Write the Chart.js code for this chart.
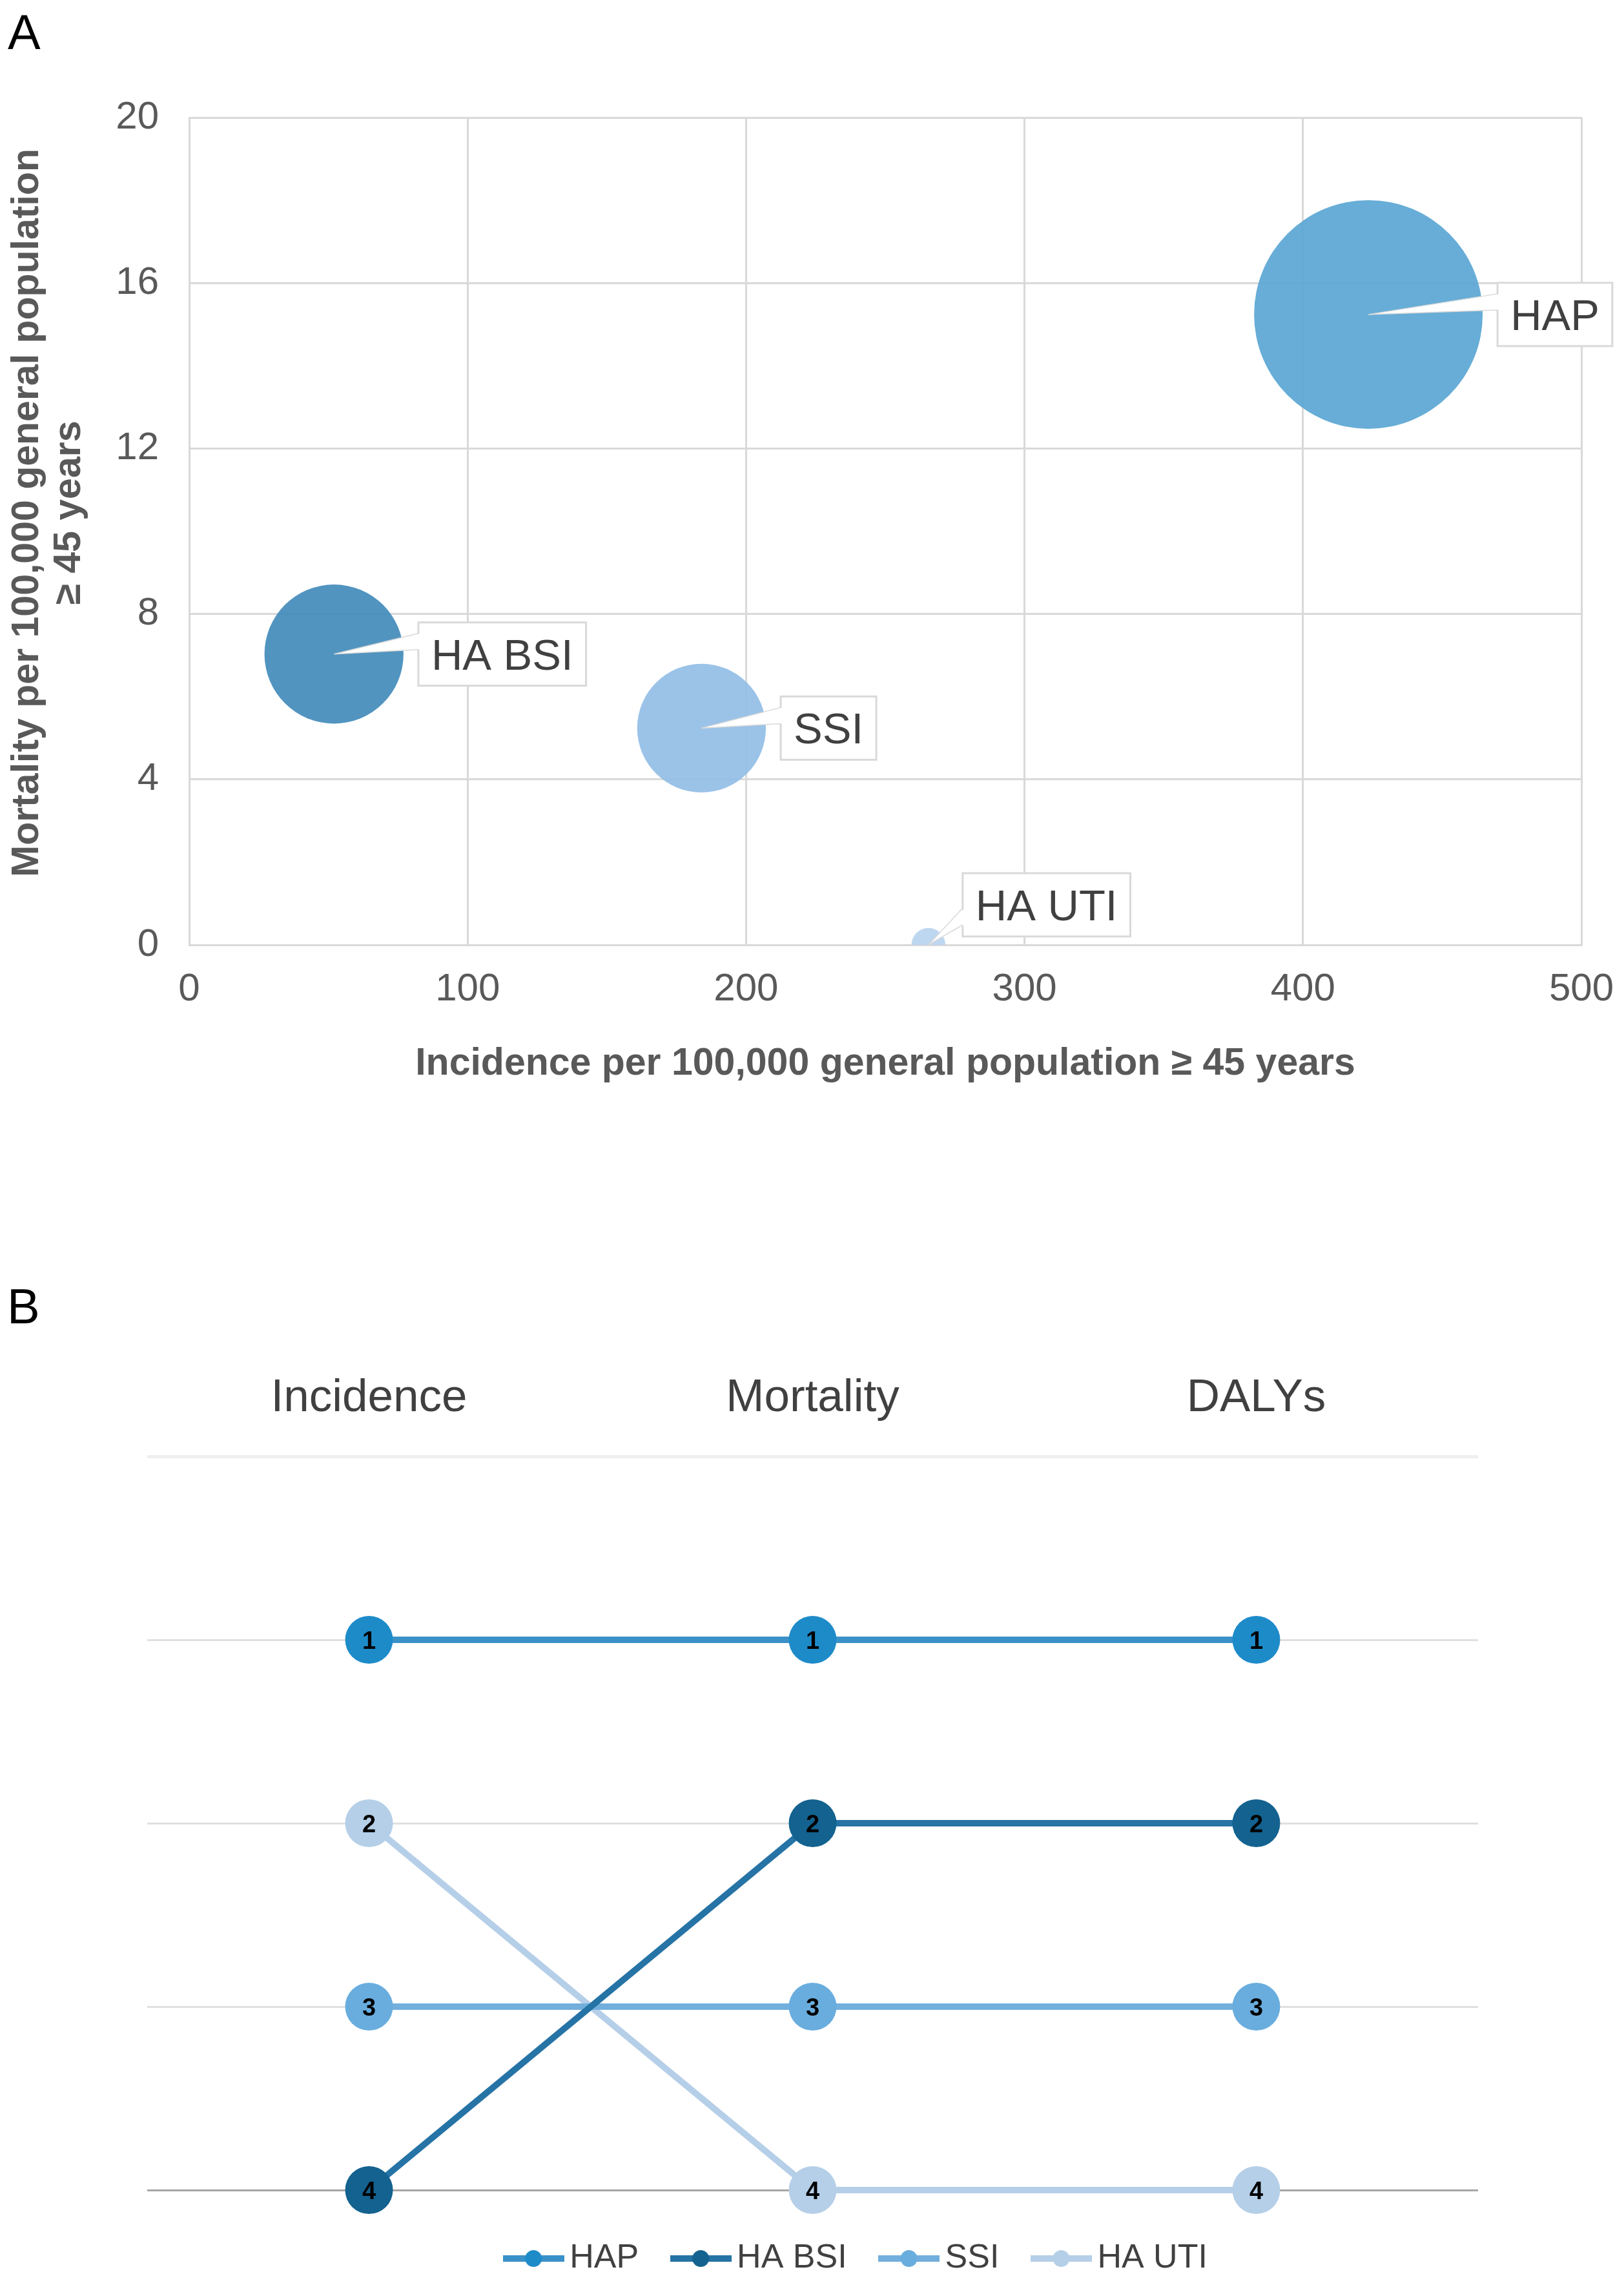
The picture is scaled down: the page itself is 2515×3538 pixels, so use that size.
<!DOCTYPE html>
<html><head><meta charset="utf-8">
<script src="https://cdn.jsdelivr.net/npm/chart.js@4.4.1/dist/chart.umd.min.js"></script>
<style>
html,body{margin:0;padding:0;background:#fff;}
body{width:2515px;height:3538px;position:relative;overflow:hidden;font-family:"Liberation Sans",Arial,sans-serif;}
#cA{position:absolute;left:0;top:0;}
#cB{position:absolute;left:0;top:1900px;}
.panel{position:absolute;font-size:76px;line-height:1;color:#000;}
</style></head><body>
<div class="panel" style="left:12px;top:12px">A</div>
<div class="panel" style="left:11px;top:1985px">B</div>
<canvas id="cA" width="2515" height="1720"></canvas>
<canvas id="cB" width="2515" height="1638"></canvas>
<script>
// ---------- DATA ----------
// Panel A
const diseases = ['HAP', 'HA BSI', 'SSI', 'HA UTI'];
const incidence = [423.5, 52, 184, 265.5];        // per 100,000 >= 45 y
const mortality = [15.24, 7.03, 5.24, 0];         // per 100,000 >= 45 y
const bubbleSize = [100, 37, 31.7, 2.2];          // relative bubble size (area)
const xTicksA = [0, 100, 200, 300, 400, 500];
const yTicksA = [0, 4, 8, 12, 16, 20];
const xTitleA = 'Incidence per 100,000 general population ≥ 45 years';
const yTitleA = ['Mortality per 100,000 general population', '≥ 45 years'];

// Panel B
const rankCategories = ['Incidence', 'Mortality', 'DALYs'];
const rankHAP = [1, 1, 1];
const rankHABSI = [4, 2, 2];
const rankSSI = [3, 3, 3];
const rankHAUTI = [2, 4, 4];
const rankTicks = [0, 1, 2, 3, 4];

// ---------- STYLE ----------
const FAM = "'Liberation Sans', Arial, sans-serif";
Chart.defaults.font.family = FAM;
const RADIUS_K = 17.7;
const bubbleColors = ['rgba(87,164,211,0.9)', 'rgba(62,136,185,0.9)', 'rgba(144,188,229,0.9)', 'rgba(183,211,238,0.9)'];
const lineColors = ['#3A91C8', '#2673A6', '#72AFDD', '#B6CFE8'];
const pointColors = ['#1E8BC9', '#13628F', '#69ADDE', '#B5CFE8'];

const bubbleLabelPlugin = {
  id: 'bubbleLabels',
  afterDatasetsDraw(chart, args, o) {
    const meta = chart.getDatasetMeta(0);
    const ctx = chart.ctx;
    ctx.save();
    ctx.font = o.fontSize + 'px ' + FAM;
    meta.data.forEach((el, i) => {
      const text = diseases[i];
      const cx = el.x, cy = el.y, r = el.options.radius;
      const tw = ctx.measureText(text).width;
      const bw = tw + 2 * o.padX, bh = o.boxH;
      const above = o.placement[i] === 'aboveRight';
      let bx, by;
      if (above) { bx = cx + o.aboveDx; by = cy - o.aboveDy - bh; }
      else { bx = cx + r + o.gap; by = cy - bh / 2; }
      ctx.fillStyle = '#fff';
      ctx.fillRect(bx, by, bw, bh);
      ctx.lineWidth = o.borderWidth;
      ctx.strokeStyle = o.borderColor;
      ctx.strokeRect(bx, by, bw, bh);
      const base = above ? o.aboveBase : o.base;
      const b0 = by + base[0], b1 = by + base[1];
      ctx.beginPath();
      ctx.moveTo(bx + o.borderWidth, b0); ctx.lineTo(cx, cy); ctx.lineTo(bx + o.borderWidth, b1); ctx.closePath();
      ctx.fillStyle = '#fff'; ctx.fill();
      ctx.beginPath();
      ctx.moveTo(bx, b0); ctx.lineTo(cx, cy); ctx.lineTo(bx, b1);
      ctx.lineWidth = 1.5; ctx.strokeStyle = o.borderColor; ctx.stroke();
      ctx.fillStyle = o.color; ctx.textBaseline = 'alphabetic'; ctx.textAlign = 'left';
      ctx.fillText(text, bx + o.padX, by + bh / 2 + o.fontSize * 0.716 / 2);
    });
    ctx.restore();
  }
};

// rotated y-axis title drawn at the reference position (text from yTitleA)
const yTitlePlugin = {
  id: 'yTitle',
  afterDraw(chart, args, o) {
    const ctx = chart.ctx;
    ctx.save();
    ctx.font = 'bold ' + o.fontSize + 'px ' + FAM;
    ctx.fillStyle = o.color;
    ctx.textAlign = 'center'; ctx.textBaseline = 'middle';
    o.text.forEach((line, i) => {
      ctx.save();
      ctx.translate(o.x + i * o.lineGap, o.centerY);
      ctx.rotate(-Math.PI / 2);
      ctx.fillText(line, 0, 0);
      ctx.restore();
    });
    ctx.restore();
  }
};

new Chart(document.getElementById('cA'), {
  type: 'bubble',
  data: {
    datasets: [{
      label: 'Burden',
      data: diseases.map((d, i) => ({ x: incidence[i], y: mortality[i], r: Math.sqrt(bubbleSize[i]) * RADIUS_K })),
      backgroundColor: bubbleColors,
      hoverBackgroundColor: bubbleColors,
      borderWidth: 0,
      hoverBorderWidth: 0,
      clip: 0
    }]
  },
  options: {
    responsive: false, animation: false, events: [],
    layout: { padding: { top: 182, right: 66, bottom: 0, left: 0 }, autoPadding: false },
    plugins: {
      legend: { display: false }, tooltip: { enabled: false },
      bubbleLabels: {
        fontSize: 67, color: '#404040', padX: 20, boxH: 98, gap: 23,
        borderWidth: 3, borderColor: '#D9D9D9',
        base: [17, 42], aboveBase: [54, 80], aboveDx: 53, aboveDy: 13,
        placement: ['right', 'right', 'right', 'aboveRight']
      },
      yTitle: { text: yTitleA, fontSize: 59, color: '#595959', x: 43, lineGap: 65, centerY: 794 }
    },
    scales: {
      x: {
        type: 'linear', min: 0, max: 500,
        afterBuildTicks(s) { s.ticks = xTicksA.map(v => ({ value: v })); },
        ticks: { color: '#595959', font: { size: 60, lineHeight: 1.9 }, padding: 12 },
        grid: { color: '#D9D9D9', lineWidth: 3, drawTicks: false },
        border: { color: '#D9D9D9', width: 3 },
        title: { display: true, text: xTitleA, color: '#595959',
                 font: { size: 59, weight: 'bold', lineHeight: 1.1 }, padding: { top: 0, bottom: 40 } },
        afterFit(s) { s.height = 257; }
      },
      y: {
        type: 'linear', min: 0, max: 20,
        afterBuildTicks(s) { s.ticks = yTicksA.map(v => ({ value: v })); },
        ticks: { color: '#595959', font: { size: 60 }, padding: 47 },
        grid: { color: '#D9D9D9', lineWidth: 3, drawTicks: false },
        border: { color: '#D9D9D9', width: 3 },
        title: { display: false },
        afterFit(s) { s.width = 293; }
      }
    }
  },
  plugins: [bubbleLabelPlugin, yTitlePlugin]
});

// ---------- Panel B ----------
function makeLegendIcon(lineColor, pointColor) {
  const c = document.createElement('canvas');
  c.width = 95; c.height = 30;
  const g = c.getContext('2d');
  g.strokeStyle = lineColor; g.lineWidth = 10;
  g.beginPath(); g.moveTo(0, 15); g.lineTo(95, 15); g.stroke();
  g.fillStyle = pointColor;
  g.beginPath(); g.arc(47.5, 15, 13, 0, Math.PI * 2); g.fill();
  return c;
}
const legendIcons = lineColors.map((lc, i) => makeLegendIcon(lc, pointColors[i]));

const rankLabelPlugin = {
  id: 'rankLabels',
  afterDatasetsDraw(chart) {
    const ctx = chart.ctx;
    ctx.save();
    const fs = 38;
    ctx.font = 'bold ' + fs + 'px ' + FAM;
    ctx.fillStyle = '#000';
    ctx.textAlign = 'center'; ctx.textBaseline = 'alphabetic';
    chart.data.datasets.forEach((ds, di) => {
      const meta = chart.getDatasetMeta(di);
      meta.data.forEach((pt, i) => {
        ctx.fillText(String(ds.data[i]), pt.x, pt.y + fs * 0.716 / 2);
      });
    });
    ctx.restore();
  }
};

const rankSeries = [rankHAP, rankHABSI, rankSSI, rankHAUTI];
new Chart(document.getElementById('cB'), {
  type: 'line',
  data: {
    labels: rankCategories,
    datasets: diseases.map((n, i) => ({
      label: n, data: rankSeries[i],
      borderColor: lineColors[i], backgroundColor: pointColors[i],
      pointBackgroundColor: pointColors[i], pointBorderWidth: 0, pointHoverBorderWidth: 0,
      pointRadius: 37, pointHoverRadius: 37, borderWidth: 10, clip: false,
      xAxisID: 'x', yAxisID: 'y', tension: 0
    }))
  },
  options: {
    responsive: false, animation: false, events: [],
    layout: { padding: { top: 55, left: 228, right: 77, bottom: 5 }, autoPadding: false },
    plugins: {
      tooltip: { enabled: false },
      legend: {
        position: 'bottom',
        labels: {
          usePointStyle: true, pointStyleWidth: 60, padding: 66, color: '#404040',
          font: { size: 52 },
          generateLabels(chart) {
            const items = Chart.defaults.plugins.legend.labels.generateLabels(chart);
            items.forEach((it, i) => { it.pointStyle = legendIcons[i]; it.fontColor = '#404040'; });
            return items;
          }
        }
      }
    },
    scales: {
      x: {
        type: 'category', position: 'top', offset: true,
        grid: { display: false, drawTicks: false }, border: { display: false },
        ticks: { color: '#404040', font: { size: 71 }, padding: 47 },
        afterFit(s) { s.height = 300; }
      },
      xb: {
        type: 'category', position: 'bottom', display: true,
        grid: { display: false, drawTicks: false }, border: { display: false },
        ticks: { display: false },
        afterFit(s) { s.height = 14; }
      },
      y: {
        type: 'linear', min: 0, max: 4, reverse: true, position: 'left',
        afterBuildTicks(s) { s.ticks = rankTicks.map(v => ({ value: v })); },
        ticks: { display: false },
        grid: {
          drawTicks: false,
          color: c => c.tick.value === 0 ? '#EFEFEF' : (c.tick.value === 4 ? '#A6A6A6' : '#E0E0E0'),
          lineWidth: c => c.tick.value === 0 ? 5 : 3
        },
        border: { display: false },
        afterFit(s) { s.width = 0; }
      },
      yr: {
        type: 'linear', position: 'right', display: true,
        grid: { display: false, drawTicks: false }, border: { display: false },
        ticks: { display: false },
        afterFit(s) { s.width = 149; }
      }
    }
  },
  plugins: [rankLabelPlugin]
});
</script>
</body></html>
